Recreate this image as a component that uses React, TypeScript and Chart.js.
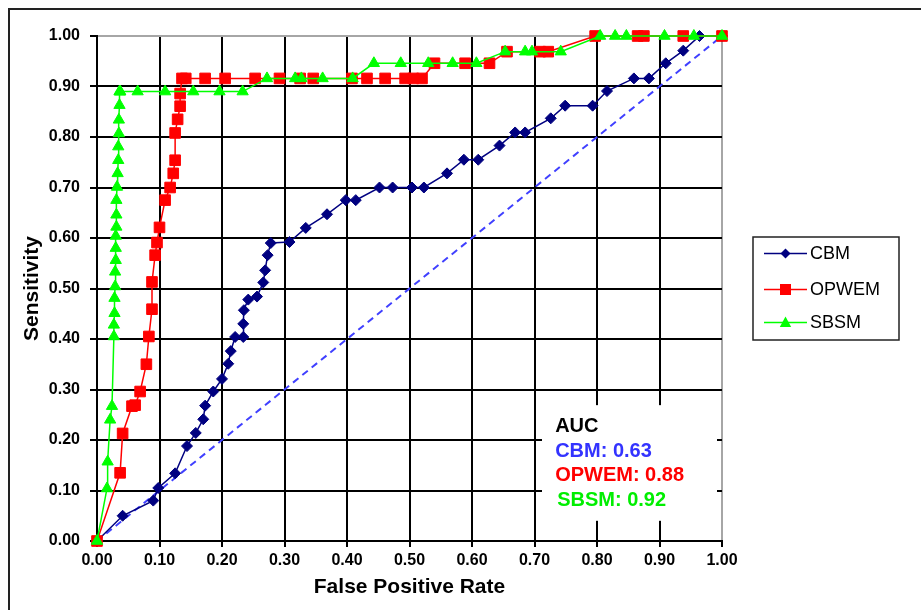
import React, { useEffect, useRef } from 'react';
import { Chart, registerables } from 'chart.js';

Chart.register(...registerables);

const FONT = '"Liberation Sans", Arial, Helvetica, sans-serif';

const seriesNames = ['CBM', 'OPWEM', 'SBSM'];
const seriesColors = ['#000080', '#ff0000', '#00ff00'];
const aucValues = ['0.63', '0.88', '0.92'];
const aucColors = ['#3333ff', '#ff0000', '#00ee00'];

const cbmFpr = [0, 0.041, 0.09, 0.098, 0.125, 0.144, 0.158, 0.17, 0.173, 0.186, 0.2, 0.21, 0.214, 0.221, 0.234, 0.234, 0.235, 0.242, 0.256, 0.266, 0.269, 0.273, 0.278, 0.308, 0.334, 0.368, 0.398, 0.414, 0.452, 0.473, 0.504, 0.523, 0.56, 0.587, 0.61, 0.644, 0.669, 0.685, 0.726, 0.749, 0.793, 0.816, 0.859, 0.883, 0.91, 0.938, 0.964, 1];
const cbmSens = [0, 0.05, 0.08, 0.105, 0.134, 0.188, 0.214, 0.241, 0.268, 0.296, 0.321, 0.351, 0.376, 0.404, 0.404, 0.43, 0.457, 0.478, 0.484, 0.512, 0.536, 0.566, 0.59, 0.592, 0.62, 0.647, 0.675, 0.675, 0.7, 0.7, 0.7, 0.7, 0.728, 0.755, 0.755, 0.783, 0.809, 0.809, 0.837, 0.862, 0.862, 0.891, 0.916, 0.916, 0.946, 0.971, 1, 1];

const opwemFpr = [0, 0.037, 0.041, 0.056, 0.061, 0.069, 0.079, 0.083, 0.088, 0.088, 0.093, 0.096, 0.1, 0.109, 0.117, 0.122, 0.125, 0.125, 0.129, 0.133, 0.133, 0.136, 0.142, 0.173, 0.205, 0.253, 0.292, 0.325, 0.346, 0.408, 0.432, 0.461, 0.493, 0.506, 0.52, 0.54, 0.589, 0.628, 0.656, 0.709, 0.722, 0.797, 0.865, 0.875, 0.938, 1];
const opwemSens = [0, 0.135, 0.213, 0.267, 0.269, 0.296, 0.35, 0.405, 0.459, 0.513, 0.566, 0.591, 0.621, 0.675, 0.7, 0.728, 0.754, 0.808, 0.835, 0.861, 0.886, 0.916, 0.916, 0.916, 0.916, 0.916, 0.916, 0.916, 0.916, 0.916, 0.916, 0.916, 0.916, 0.916, 0.916, 0.946, 0.946, 0.946, 0.969, 0.969, 0.969, 1, 1, 1, 1, 1];

const sbsmFpr = [0, 0.016, 0.017, 0.021, 0.024, 0.027, 0.027, 0.028, 0.028, 0.029, 0.029, 0.03, 0.03, 0.03, 0.031, 0.031, 0.031, 0.032, 0.033, 0.034, 0.034, 0.035, 0.035, 0.036, 0.036, 0.037, 0.037, 0.065, 0.109, 0.154, 0.196, 0.233, 0.272, 0.317, 0.327, 0.361, 0.409, 0.443, 0.486, 0.53, 0.569, 0.607, 0.653, 0.685, 0.696, 0.742, 0.805, 0.829, 0.847, 0.908, 0.955, 1];
const sbsmSens = [0, 0.104, 0.157, 0.24, 0.267, 0.405, 0.428, 0.451, 0.481, 0.504, 0.533, 0.556, 0.58, 0.604, 0.622, 0.646, 0.675, 0.701, 0.728, 0.754, 0.781, 0.807, 0.834, 0.863, 0.89, 0.89, 0.89, 0.89, 0.89, 0.89, 0.89, 0.89, 0.916, 0.916, 0.916, 0.916, 0.916, 0.946, 0.946, 0.946, 0.946, 0.946, 0.969, 0.969, 0.969, 0.969, 1, 1, 1, 1, 1, 1];

const diagFpr = [0, 1];
const diagSens = [0, 1];

const tickValues = [0, 0.1, 0.2, 0.3, 0.4, 0.5, 0.6, 0.7, 0.8, 0.9, 1];

const toPoints = (xs: number[], ys: number[]) => xs.map((x, i) => ({ x, y: ys[i] }));

function drawMarker(ctx: CanvasRenderingContext2D, kind: string, x: number, y: number, r: number) {
  ctx.beginPath();
  if (kind === 'diamond') {
    ctx.moveTo(x - r, y);
    ctx.lineTo(x, y - r);
    ctx.lineTo(x + r, y);
    ctx.lineTo(x, y + r);
  } else if (kind === 'square') {
    ctx.rect(x - r, y - r, 2 * r, 2 * r);
  } else {
    ctx.moveTo(x, y - r);
    ctx.lineTo(x + r * 0.95, y + r * 0.75);
    ctx.lineTo(x - r * 0.95, y + r * 0.75);
  }
  ctx.closePath();
  ctx.fill();
}

const decorPlugin = {
  id: 'decor',
  beforeDatasetsDraw(chart: any) {
    const { ctx, scales } = chart;
    const xs = scales.x;
    const ys = scales.y;
    const l = xs.getPixelForValue(0.712);
    const r = xs.getPixelForValue(0.992);
    const t = ys.getPixelForValue(0.269);
    const b = ys.getPixelForValue(0.04);
    ctx.save();
    ctx.fillStyle = '#ffffff';
    ctx.fillRect(l, t, r - l, b - t);
    ctx.font = `bold 20px ${FONT}`;
    ctx.textAlign = 'left';
    ctx.textBaseline = 'alphabetic';
    const tx = xs.getPixelForValue(0.733);
    ctx.fillStyle = '#000';
    ctx.fillText('AUC', tx, t + 27);
    seriesNames.forEach((n, i) => {
      ctx.fillStyle = aucColors[i];
      ctx.fillText(`${n}: ${aucValues[i]}`, tx + (i === 2 ? 2 : 0), t + 51.5 + i * 24.5);
    });
    ctx.restore();
  },
  afterDraw(chart: any) {
    const { ctx, chartArea } = chart;
    ctx.save();
    ctx.strokeStyle = '#222';
    ctx.lineWidth = 2;
    ctx.beginPath();
    ctx.moveTo(9, 610);
    ctx.lineTo(9, 9);
    ctx.lineTo(921, 9);
    ctx.stroke();
    const lx = chartArea.right + 31;
    const ly = 237;
    ctx.lineWidth = 1.5;
    ctx.strokeStyle = '#222';
    ctx.strokeRect(lx, ly, 146, 103);
    const kinds = ['diamond', 'square', 'triangle'];
    const rows = [253.5, 289.5, 322.5];
    const sizes = [5, 5.5, 6];
    ctx.font = `18px ${FONT}`;
    ctx.textBaseline = 'middle';
    ctx.textAlign = 'left';
    seriesNames.forEach((n, i) => {
      const y = rows[i];
      ctx.strokeStyle = seriesColors[i];
      ctx.lineWidth = 1.5;
      ctx.beginPath();
      ctx.moveTo(lx + 11, y);
      ctx.lineTo(lx + 54, y);
      ctx.stroke();
      ctx.fillStyle = seriesColors[i];
      drawMarker(ctx, kinds[i], lx + 32.5, y, sizes[i]);
      ctx.fillStyle = '#000';
      ctx.fillText(n, lx + 57, y + 1);
    });
    ctx.restore();
  },
};

export default function App() {
  const ref = useRef<HTMLCanvasElement | null>(null);

  useEffect(() => {
    if (!ref.current) return;
    const commonPoint = { clip: false as any, showLine: true, tension: 0, borderWidth: 1.5, pointBorderWidth: 1 };
    const chart = new Chart(ref.current, {
      type: 'scatter',
      data: {
        datasets: [
          {
            ...commonPoint,
            label: 'SBSM',
            data: toPoints(sbsmFpr, sbsmSens),
            borderColor: seriesColors[2],
            backgroundColor: seriesColors[2],
            pointBackgroundColor: seriesColors[2],
            pointBorderColor: seriesColors[2],
            pointStyle: 'triangle',
            pointRadius: 6.5,
            order: 1,
          },
          {
            ...commonPoint,
            label: 'OPWEM',
            data: toPoints(opwemFpr, opwemSens),
            borderColor: seriesColors[1],
            backgroundColor: seriesColors[1],
            pointBackgroundColor: seriesColors[1],
            pointBorderColor: seriesColors[1],
            pointStyle: 'rect',
            pointRadius: 7.5,
            order: 2,
          },
          {
            ...commonPoint,
            label: 'CBM',
            data: toPoints(cbmFpr, cbmSens),
            borderColor: seriesColors[0],
            backgroundColor: seriesColors[0],
            pointBackgroundColor: seriesColors[0],
            pointBorderColor: seriesColors[0],
            pointStyle: 'rectRot',
            pointRadius: 5.5,
            order: 3,
          },
          {
            label: 'diag',
            data: toPoints(diagFpr, diagSens),
            showLine: true,
            borderColor: '#4040ff',
            borderWidth: 2,
            borderDash: [7, 5],
            pointRadius: 0,
            clip: false as any,
            order: 4,
          },
        ],
      },
      options: {
        responsive: false,
        animation: false,
        devicePixelRatio: 1,
        layout: { padding: { top: 36, right: 199, left: 0, bottom: 0 } },
        plugins: {
          legend: { display: false },
          tooltip: { enabled: false },
        },
        scales: {
          x: {
            type: 'linear',
            min: 0,
            max: 1,
            afterBuildTicks: (s: any) => {
              s.ticks = tickValues.map((v) => ({ value: v }));
            },
            afterFit: (s: any) => {
              s.height = 69;
            },
            ticks: {
              autoSkip: false,
              maxRotation: 0,
              padding: 4,
              color: '#000',
              font: { family: FONT, size: 16, weight: 'bold' },
              callback: (v: any) => Number(v).toFixed(2),
            },
            grid: {
              color: (c: any) => (c.tick && c.tick.value >= 1 ? '#a6a6a6' : '#000'),
              lineWidth: 2,
              tickLength: 6,
              tickColor: '#000',
            },
            border: { color: '#000', width: 2 },
            title: {
              display: true,
              text: 'False Positive Rate',
              color: '#000',
              font: { family: FONT, size: 21, weight: 'bold' },
              padding: { top: 0, bottom: 10 },
            },
          },
          y: {
            type: 'linear',
            min: 0,
            max: 1,
            afterBuildTicks: (s: any) => {
              s.ticks = tickValues.map((v) => ({ value: v }));
            },
            afterFit: (s: any) => {
              s.width = 97;
            },
            ticks: {
              autoSkip: false,
              padding: 10,
              color: '#000',
              font: { family: FONT, size: 16, weight: 'bold' },
              callback: (v: any) => Number(v).toFixed(2),
            },
            grid: {
              color: (c: any) => (c.tick && c.tick.value >= 1 ? '#a6a6a6' : '#000'),
              lineWidth: 2,
              tickLength: 7,
              tickColor: '#000',
            },
            border: { color: '#000', width: 2 },
            title: {
              display: true,
              text: 'Sensitivity',
              color: '#000',
              font: { family: FONT, size: 21, weight: 'bold' },
              padding: { top: 20, bottom: 0 },
            },
          },
        },
      } as any,
      plugins: [decorPlugin],
    });
    return () => chart.destroy();
  }, []);

  return (
    <div style={{ position: 'absolute', left: 0, top: 0, width: 921, height: 610, background: '#fff' }}>
      <canvas ref={ref} width={921} height={610} style={{ display: 'block', width: 921, height: 610 }} />
    </div>
  );
}
